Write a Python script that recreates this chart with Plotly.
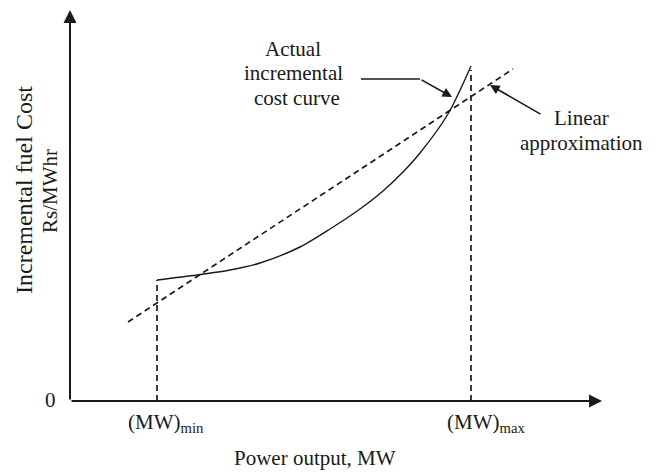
import plotly.graph_objects as go

# power output (MW, arbitrary units) and incremental fuel cost of the actual curve
power = [87, 127, 160, 190, 230, 260, 290, 313, 333, 350, 378, 401]
cost = [121, 126, 131, 138, 154, 172, 192, 210, 229, 248, 287, 335]

# linear approximation end points
linear_power = [58, 443]
linear_cost = [79, 332]

mw_min = 87
mw_max = 401
mw_max_top = 331

axis_x_end = 532
axis_y_end = 391

FONT = "Liberation Serif, Times New Roman, serif"
INK = "#1a1a1a"

fig = go.Figure()

# actual incremental cost curve
fig.add_trace(
    go.Scatter(
        x=power,
        y=cost,
        mode="lines",
        line=dict(color=INK, width=1.4, shape="spline", smoothing=0.8),
        showlegend=False,
        hoverinfo="skip",
    )
)

# linear approximation
fig.add_trace(
    go.Scatter(
        x=linear_power,
        y=linear_cost,
        mode="lines",
        line=dict(color=INK, width=1.7, dash="6px,4px"),
        showlegend=False,
        hoverinfo="skip",
    )
)

# dashed drop lines at (MW)min and (MW)max
for x0, y1 in [(mw_min, cost[0]), (mw_max, mw_max_top)]:
    fig.add_trace(
        go.Scatter(
            x=[x0, x0],
            y=[0, y1],
            mode="lines",
            line=dict(color=INK, width=1.7, dash="6px,4px"),
            showlegend=False,
            hoverinfo="skip",
        )
    )

# leader line of the "Actual incremental cost curve" label
fig.add_trace(
    go.Scatter(
        x=[291, 350],
        y=[322, 322],
        mode="lines",
        line=dict(color=INK, width=1.6),
        showlegend=False,
        hoverinfo="skip",
    )
)


def arrow(x, y, ax, ay, size=1.2, width=1.6):
    fig.add_annotation(
        x=x, y=y, ax=ax, ay=ay,
        xref="x", yref="y", axref="x", ayref="y",
        text="", showarrow=True,
        arrowhead=2, arrowsize=size, arrowwidth=width, arrowcolor=INK,
    )


# axes with arrow heads
arrow(0, axis_y_end, 0, 0, size=1.3, width=2)
arrow(axis_x_end, 0, 0, 0, size=1.3, width=2)

# pointer arrows
arrow(382, 304, 350, 322)
arrow(420, 316, 472, 286)


def label(x, y, text, size=21, angle=0):
    fig.add_annotation(
        x=x, y=y, xref="x", yref="y",
        text=text, showarrow=False, textangle=angle,
        font=dict(family=FONT, size=size, color=INK),
    )


label(223, 352, "Actual")
label(223, 328, "incremental")
label(227, 303, "cost curve")
label(511, 283, "Linear")
label(511, 258, "approximation")
label(-20, 1, "0")
label(96, -22, "(MW)<sub>min</sub>")
label(416, -22, "(MW)<sub>max</sub>")
label(245, -57, "Power output, MW")
label(-46, 211, "Incremental fuel Cost", size=24, angle=-90)
label(-20, 210, "Rs/MWhr", angle=-90)

# the page body adds an 8 px margin, so the figure is 8 px smaller than the window
fig.update_layout(
    width=649,
    height=464,
    margin=dict(l=0, r=0, t=0, b=0),
    paper_bgcolor="white",
    plot_bgcolor="white",
    xaxis=dict(range=[-62, 587], visible=False, fixedrange=True),
    yaxis=dict(range=[-71, 393], visible=False, fixedrange=True),
)

fig.write_html("out.html")
